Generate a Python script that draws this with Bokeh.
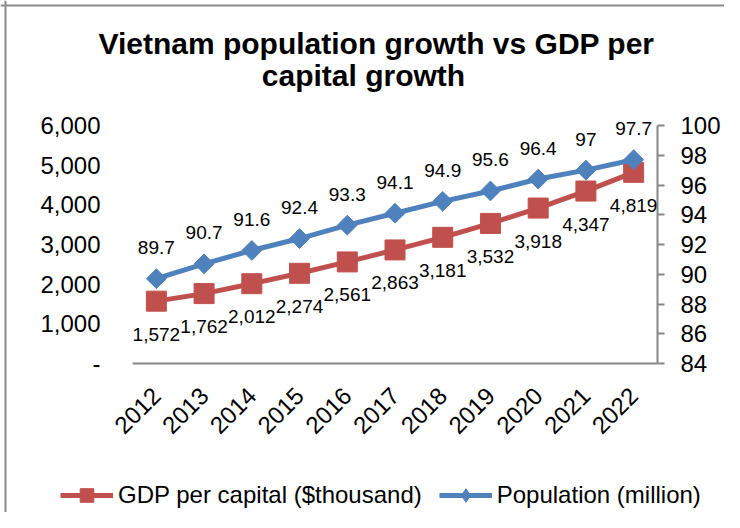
import numpy as np
from bokeh.plotting import figure
from bokeh.models import (Range1d, LinearAxis, FixedTicker, LabelSet, Label, ColumnDataSource,
                          Legend, LegendItem, Span)
from bokeh.core.properties import value
from bokeh.embed import file_html
from bokeh.resources import INLINE

years = ["2012", "2013", "2014", "2015", "2016", "2017", "2018", "2019", "2020", "2021", "2022"]
gdp_per_capita = [1572, 1762, 2012, 2274, 2561, 2863, 3181, 3532, 3918, 4347, 4819]
population = [89.7, 90.7, 91.6, 92.4, 93.3, 94.1, 94.9, 95.6, 96.4, 97.0, 97.7]
left_ticks = [0, 1000, 2000, 3000, 4000, 5000, 6000]
right_ticks = [84, 86, 88, 90, 92, 94, 96, 98, 100]
title_lines = ["Vietnam population growth vs GDP per", "capital growth"]
series_names = ["GDP per capital ($thousand)", "Population (million)"]

RED = "#C0504D"
BLUE = "#4F81BD"
AXIS = "#868686"
FONT = "Liberation Sans"

# canvas and plot-area geometry (pixels)
W, H = 724, 512
PX0, PX1, PY_TOP, PY_BOT = 132, 657, 125, 363
BORDER = 5

n = len(years)
x_pos = [i + 0.5 for i in range(n)]
x_per_px = n / (PX1 - PX0)
x_start, x_end = -PX0 * x_per_px, n + (W - PX1) * x_per_px

y_lo, y_hi = left_ticks[0], left_ticks[-1]
r_lo, r_hi = right_ticks[0], right_ticks[-1]
plot_h = PY_BOT - PY_TOP
def span(lo, hi):
    per = (hi - lo) / plot_h
    return Range1d(lo - (H - PY_BOT) * per, hi + PY_TOP * per)

yr = span(y_lo, y_hi)
p = figure(width=W, height=H, x_range=Range1d(x_start, x_end), y_range=yr,
           output_backend="svg", toolbar_location=None, min_border=0,
           min_border_left=0, min_border_right=0, min_border_top=0, min_border_bottom=0)
p.extra_y_ranges = {"pop": span(r_lo, r_hi)}
p.grid.visible = False
p.outline_line_color = None
p.background_fill_color = "white"
p.border_fill_color = "white"

# left axis
ya = p.yaxis[0]
ya.fixed_location = 0
ya.ticker = FixedTicker(ticks=left_ticks)
ya.bounds = (y_lo, y_hi)
ya.major_label_overrides = {t: ("-" if t == 0 else f"{t:,}") for t in left_ticks}
ya.axis_line_color = None
ya.major_tick_line_color = None
ya.minor_tick_line_color = None
ya.major_tick_out = 0
ya.major_tick_in = 0
ya.major_label_standoff = 32
ya.major_label_text_font = FONT
ya.major_label_text_font_size = "24px"
ya.major_label_text_color = "black"

# bottom axis
xa = p.xaxis[0]
xa.fixed_location = y_lo
xa.bounds = (0, n)
xa.ticker = FixedTicker(ticks=x_pos)
xa.major_label_overrides = {x: y for x, y in zip(x_pos, years)}
xa.axis_line_color = AXIS
xa.axis_line_width = 2
xa.major_tick_line_color = None
xa.minor_tick_line_color = None
xa.major_tick_out = 0
xa.major_tick_in = 0
xa.major_label_orientation = np.pi / 4
xa.major_label_standoff = 28
xa.major_label_text_font = FONT
xa.major_label_text_font_size = "24px"
xa.major_label_text_color = "black"

# right axis
ra = LinearAxis(y_range_name="pop", ticker=FixedTicker(ticks=right_ticks), bounds=(r_lo, r_hi),
                fixed_location=n)
ra.axis_line_color = AXIS
ra.axis_line_width = 2
ra.major_tick_line_color = AXIS
ra.major_tick_line_width = 2
ra.major_tick_out = 7
ra.major_tick_in = 0
ra.minor_tick_line_color = None
ra.major_label_standoff = 16
ra.major_label_text_font = FONT
ra.major_label_text_font_size = "24px"
ra.major_label_text_color = "black"
p.add_layout(ra, "right")

src = ColumnDataSource(dict(
    x=x_pos, gdp=gdp_per_capita, pop=population,
    gdp_lbl=[f"{v:,}" for v in gdp_per_capita],
    pop_lbl=[f"{v:g}" for v in population],
))

gl = p.line("x", "gdp", source=src, line_color=RED, line_width=5)
gs = p.scatter("x", "gdp", source=src, marker="square", size=20, fill_color=RED, line_color=RED)
bl = p.line("x", "pop", source=src, y_range_name="pop", line_color=BLUE, line_width=5)
bs = p.scatter("x", "pop", source=src, y_range_name="pop", marker="square", angle=np.pi / 4,
               size=14, fill_color=BLUE, line_color=BLUE)
# legend-only swatch (draws nothing in the plot): a diamond for the population key
bs_key = p.scatter(x=[np.nan], y=[np.nan], y_range_name="pop", marker="diamond",
                   size=20, fill_color=BLUE, line_color=BLUE)

p.add_layout(LabelSet(x="x", y="gdp", text="gdp_lbl", source=src, y_offset=-33,
                      text_align="center", text_baseline="middle",
                      text_font=value(FONT), text_font_size=value("19px"), text_color="black"))
p.add_layout(LabelSet(x="x", y="pop", text="pop_lbl", source=src, y_range_name="pop", y_offset=31,
                      text_align="center", text_baseline="middle",
                      text_font=value(FONT), text_font_size=value("19px"), text_color="black"))

# title (screen units, y measured up from the bottom)
p.add_layout(Label(x=376, y=H - 43, x_units="screen", y_units="screen", text=title_lines[0],
                   text_align="center", text_baseline="alphabetic", text_font=FONT,
                   text_font_size="30px", text_font_style="bold", text_color="black"))
p.add_layout(Label(x=363, y=H - 75, x_units="screen", y_units="screen", text=title_lines[1],
                   text_align="center", text_baseline="alphabetic", text_font=FONT,
                   text_font_size="30px", text_font_style="bold", text_color="black"))

legend = Legend(items=[LegendItem(label=series_names[0], renderers=[gl, gs]),
                       LegendItem(label=series_names[1], renderers=[bl, bs_key])],
                orientation="horizontal", location=(60, 0),
                label_text_font=FONT, label_text_font_size="24px", label_text_color="black",
                glyph_width=53, glyph_height=34, spacing=17, label_standoff=5,
                padding=0, margin=0, border_line_color=None, background_fill_alpha=0)
p.add_layout(legend)

# outer chart border (only its top and left edges are inside the picture)
y_per_px = (yr.end - yr.start) / H
p.add_layout(Span(location=x_start + BORDER * x_per_px, dimension="height",
                  line_color="#8C8C8C", line_width=2))
p.add_layout(Span(location=yr.end - BORDER * y_per_px, dimension="width",
                  line_color="#8C8C8C", line_width=2))

open("out.html", "w").write(file_html(p, INLINE))
